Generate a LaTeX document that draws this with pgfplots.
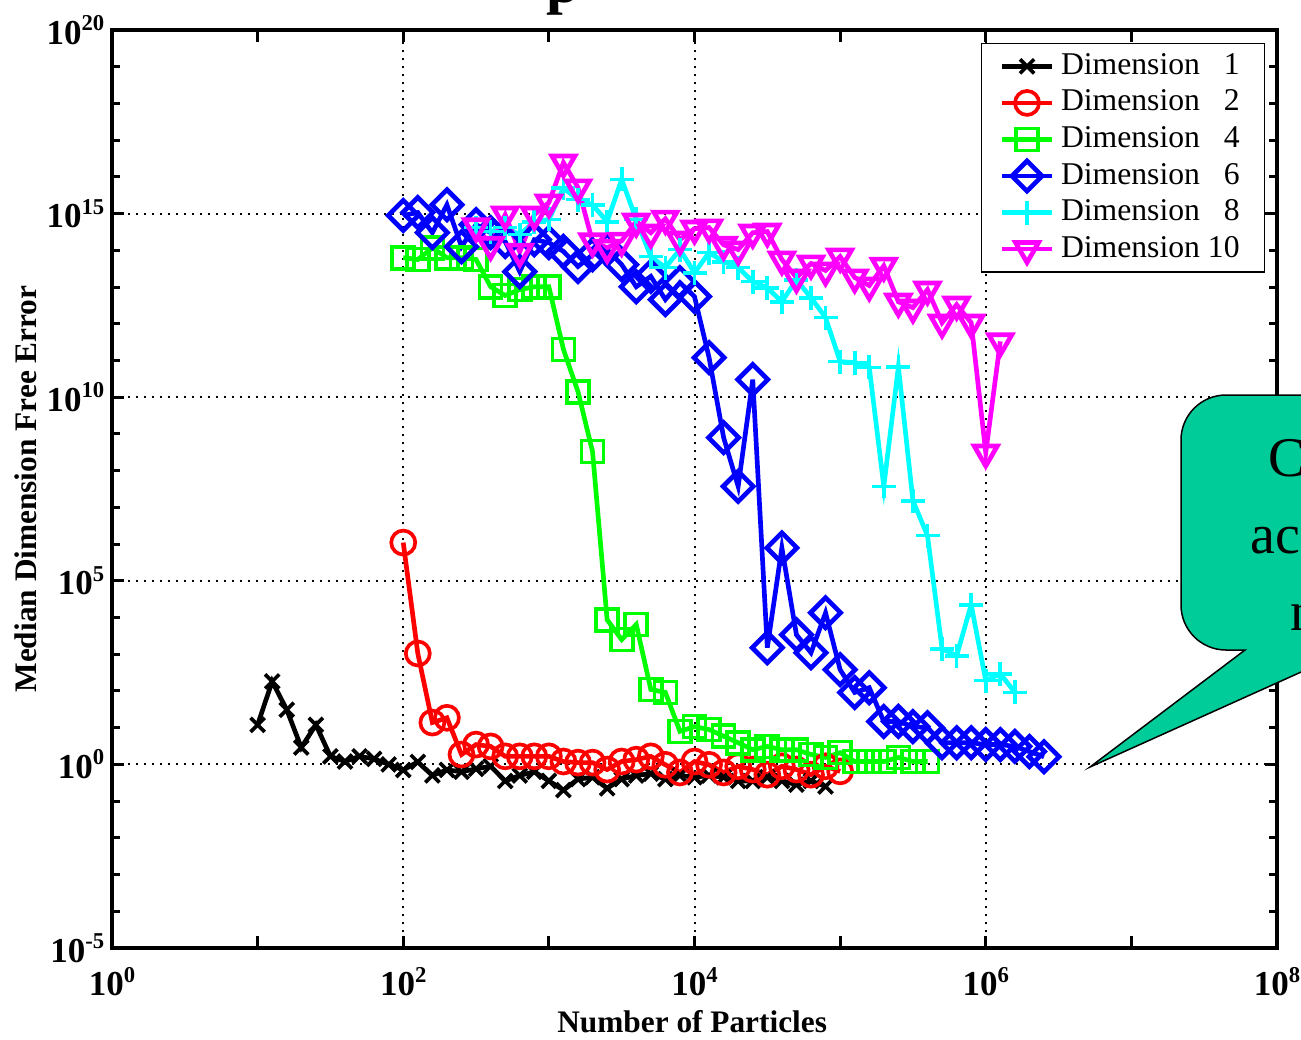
\documentclass[border=0pt]{standalone}
\usepackage{fontspec}
\setmainfont{Liberation Serif}
\usepackage{pgfplots}
\pgfplotsset{compat=1.18}
\definecolor{callout}{RGB}{0,204,153}
\definecolor{mred}{rgb}{1,0,0}
\definecolor{mgreen}{rgb}{0,1,0}
\definecolor{mblue}{rgb}{0,0,1}
\definecolor{mcyan}{rgb}{0,1,1}
\definecolor{mmagenta}{rgb}{1,0,1}
\newcommand{\tl}[1]{\textbf{10}\raisebox{0.85ex}{\fontsize{6.8}{6.8}\selectfont\textbf{#1}}}
\begin{document}
\begin{tikzpicture}[x=1pt,y=1pt]
\begin{axis}[
  at={(0,0)}, anchor=south west,
  scale only axis, width=349.5pt, height=275.4pt,
  xmode=log, ymode=log,
  xmin=1, xmax=1e8, ymin=1e-5, ymax=1e20,
  xtick={1,1e2,1e4,1e6,1e8},
  xticklabels={\tl{0},\tl{2},\tl{4},\tl{6},\tl{8}},
  extra x ticks={1e1,1e3,1e5,1e7},
  extra x tick labels={},
  extra x tick style={grid=none},
  xminorticks=false,
  ytick={1e-5,1,1e5,1e10,1e15,1e20},
  yticklabels={\tl{-5},\tl{0},\tl{5},\tl{10},\tl{15},\tl{20}},
  minor ytick={1e-4,1e-3,1e-2,1e-1,1e1,1e2,1e3,1e4,1e6,1e7,1e8,1e9,1e11,1e12,1e13,1e14,1e16,1e17,1e18,1e19},
  major tick length=3.6pt, minor tick length=2.4pt,
  tick style={black, line width=0.9pt},
  tick align=inside,
  axis line style={line width=1.2pt},
  grid=major,
  major grid style={black, line width=0.6pt, dash pattern=on 0.6pt off 1.8pt},
  ticklabel style={font=\fontsize{10.5}{10.5}\selectfont},
  xticklabel style={yshift=-2.2pt},
  yticklabel style={xshift=1.2pt},
  xlabel={\textbf{Number of Particles}},
  ylabel={\textbf{Median Dimension Free Error}},
  label style={font=\fontsize{9.4}{9.4}\selectfont},
  xlabel style={at={(axis description cs:0.498,-0.0806)}, anchor=center},
  ylabel style={at={(axis description cs:-0.0738,0.5)}, anchor=center},
  every axis plot/.append style={line width=1.4pt, mark options={solid, line width=1.1pt}},
  legend image code/.code={\draw[mark repeat=2,mark phase=2,#1] plot coordinates {(0pt,0pt) (7.5pt,0pt) (15pt,0pt)};},
  legend style={at={(0.9897,0.9863)}, anchor=north east, draw=black, line width=0.45pt, fill=white,
    font=\fontsize{9.5}{11}\selectfont, cells={anchor=west}, inner xsep=5.4pt, inner ysep=1pt, row sep=-0.85pt,
    /tikz/every even column/.append style={column sep=2.6pt}},
]
\addplot[black, mark=x, mark size=3pt] coordinates {
(1e1,12.0)(1.259e1,182)(1.585e1,30.9)(1.995e1,2.88)(2.512e1,12.0)(3.162e1,1.66)(3.981e1,1.20)(5.012e1,1.66)(6.310e1,1.41)(7.943e1,1.0)
(1e2,0.708)(1.259e2,1.17)(1.585e2,0.501)(1.995e2,0.708)(2.512e2,0.631)(3.162e2,0.759)(3.981e2,0.891)(5.012e2,0.355)(6.310e2,0.501)(7.943e2,0.631)
(1e3,0.355)(1.259e3,0.2)(1.585e3,0.398)(1.995e3,0.447)(2.512e3,0.224)(3.162e3,0.398)(3.981e3,0.501)(5.012e3,0.562)(6.310e3,0.398)(7.943e3,0.501)
(1e4,0.447)(1.259e4,0.501)(1.585e4,0.447)(1.995e4,0.355)(2.512e4,0.355)(3.162e4,0.447)(3.981e4,0.355)(5.012e4,0.282)(6.310e4,0.355)(7.943e4,0.251)
};
\addlegendentry{Dimension \phantom{0}1}
\addplot[mred, mark=o, mark size=3.6pt] coordinates {
(1e2,1.10e6)(1.259e2,1.05e3)(1.585e2,13.8)(1.995e2,18.6)(2.512e2,1.86)(3.162e2,3.47)(3.981e2,3.09)(5.012e2,1.66)(6.310e2,1.66)(7.943e2,1.66)
(1e3,1.66)(1.259e3,1.20)(1.585e3,1.12)(1.995e3,1.12)(2.512e3,0.724)(3.162e3,1.20)(3.981e3,1.35)(5.012e3,1.66)(6.310e3,0.977)(7.943e3,0.603)
(1e4,1.20)(1.259e4,0.977)(1.585e4,0.603)(1.995e4,0.891)(2.512e4,0.724)(3.162e4,0.525)(3.981e4,0.891)(5.012e4,0.724)(6.310e4,0.525)(7.943e4,0.891)(1e5,0.646)
};
\addlegendentry{Dimension \phantom{0}2}
\addplot[mgreen, mark=square, mark size=3.3pt] coordinates {
(1e2,6.31e13)(1.259e2,5.62e13)(1.585e2,1.17e14)(1.995e2,6.31e13)(2.512e2,6.31e13)(3.162e2,5.62e13)(3.981e2,1.02e13)(5.012e2,5.89e12)(6.310e2,8.51e12)(7.943e2,1.02e13)
(1e3,1.02e13)(1.259e3,2.0e11)(1.585e3,1.41e10)(1.995e3,3.31e8)(2.512e3,8.71e3)(3.162e3,2.51e3)(3.981e3,6.46e3)(5.012e3,110)(6.310e3,91.2)(7.943e3,7.94)
(1e4,10.7)(1.259e4,8.91)(1.585e4,5.89)(1.995e4,3.89)(2.512e4,2.51)(3.162e4,3.09)(3.981e4,2.51)(5.012e4,2.51)(6.310e4,1.86)(7.943e4,1.55)
(1e5,2.09)(1.259e5,1.20)(1.585e5,1.20)(1.995e5,1.20)(2.512e5,1.55)(3.162e5,1.20)(3.981e5,1.20)
};
\addlegendentry{Dimension \phantom{0}4}
\addplot[mblue, mark=square, mark size=3.2pt, mark options={rotate=45}] coordinates {
(1e2,8.91e14)(1.259e2,1.07e15)(1.585e2,3.02e14)(1.995e2,1.74e15)(2.512e2,1.26e14)(3.162e2,5.01e14)(3.981e2,3.02e14)(5.012e2,1.74e14)(6.310e2,2.63e13)(7.943e2,1.95e14)
(1e3,1.62e14)(1.259e3,9.33e13)(1.585e3,3.63e13)(1.995e3,7.59e13)(2.512e3,1.05e14)(3.162e3,4.07e13)(3.981e3,1.02e13)(5.012e3,1.95e13)(6.310e3,4.57e12)(7.943e3,1.32e13)
(1e4,5.50e12)(1.259e4,1.20e11)(1.585e4,7.94e8)(1.995e4,3.72e7)(2.512e4,3.02e10)(3.162e4,1.51e3)(3.981e4,7.94e5)(5.012e4,3.39e3)(6.310e4,1.10e3)(7.943e4,1.35e4)
(1e5,380)(1.259e5,91.2)(1.585e5,123)(1.995e5,14.8)(2.512e5,14.8)(3.162e5,10.7)(3.981e5,10.0)(5.012e5,3.89)(6.310e5,3.89)(7.943e5,3.89)
(1e6,3.47)(1.259e6,3.47)(1.585e6,3.09)(1.995e6,2.24)(2.512e6,1.62)
};
\addlegendentry{Dimension \phantom{0}6}
\addplot[mcyan, mark=+, mark size=3.6pt] coordinates {
(3.162e2,4.17e14)(3.981e2,3.24e14)(5.012e2,4.17e14)(6.310e2,2.69e14)(7.943e2,6.03e14)
(1e3,6.92e14)(1.259e3,5.01e15)(1.585e3,2.40e15)(1.995e3,1.74e15)(2.512e3,6.03e14)(3.162e3,8.51e15)(3.981e3,6.92e14)(5.012e3,6.76e13)(6.310e3,3.39e13)(7.943e3,1.05e14)
(1e4,2.45e13)(1.259e4,8.71e13)(1.585e4,4.90e13)(1.995e4,3.39e13)(2.512e4,1.41e13)(3.162e4,9.55e12)(3.981e4,3.98e12)(5.012e4,1.58e13)(6.310e4,5.13e12)(7.943e4,1.48e12)
(1e5,9.33e10)(1.259e5,8.71e10)(1.585e5,6.46e10)(1.995e5,3.72e7)(2.512e5,6.76e10)(3.162e5,1.51e7)(3.981e5,1.70e6)(5.012e5,1.41e3)(6.310e5,912)(7.943e5,2.24e4)
(1e6,191)(1.259e6,295)(1.585e6,91.2)
};
\addlegendentry{Dimension \phantom{0}8}
\addplot[mmagenta, mark=triangle, mark size=4pt, mark options={rotate=180}] coordinates {
(3.162e2,4.47e14)(3.981e2,1.41e14)(5.012e2,9.33e14)(6.310e2,9.12e13)(7.943e2,9.33e14)
(1e3,2.0e15)(1.259e3,2.45e16)(1.585e3,5.13e15)(1.995e3,1.74e14)(2.512e3,1.17e14)(3.162e3,1.82e14)(3.981e3,6.03e14)(5.012e3,3.02e14)(6.310e3,7.24e14)(7.943e3,1.95e14)
(1e4,3.89e14)(1.259e4,4.17e14)(1.585e4,1.41e14)(1.995e4,1.05e14)(2.512e4,3.02e14)(3.162e4,3.24e14)(3.981e4,5.62e13)(5.012e4,1.82e13)(6.310e4,4.37e13)(7.943e4,2.82e13)
(1e5,6.76e13)(1.259e5,1.82e13)(1.585e5,1.10e13)(1.995e5,3.80e13)(2.512e5,3.98e12)(3.162e5,2.75e12)(3.981e5,8.51e12)(5.012e5,1.07e12)(6.310e5,3.31e12)(7.943e5,1.07e12)
(1e6,3.09e8)(1.259e6,3.31e11)
};
\addlegendentry{Dimension 10}
\end{axis}
% callout
\draw[fill=callout, line width=0.45pt] (392.4,165.9) -- (334.2,165.9) arc[start angle=90, end angle=180, radius=13.5pt]
  -- (320.7,102.9) arc[start angle=180, end angle=270, radius=13.5pt] -- (339.9,89.4) -- (293.4,54.3) -- (371.4,89.4) -- (392.4,89.4) -- cycle;
\node[anchor=base west, inner sep=0pt, font=\fontsize{16.8}{16.8}\selectfont] at (346.8,141.4) {C};
\node[anchor=base west, inner sep=0pt, font=\fontsize{16.8}{16.8}\selectfont] at (341.4,118.5) {ac};
\node[anchor=base west, inner sep=0pt, font=\fontsize{16.8}{16.8}\selectfont] at (353.4,95.4) {n};
% cut title
\node[anchor=base west, inner sep=0pt, font=\fontsize{18}{18}\bfseries] at (130.2,283.8) {p};
\pgfresetboundingbox
\useasboundingbox (-33.6,-27.3) rectangle (356.7,284.4);
\end{tikzpicture}
\end{document}
